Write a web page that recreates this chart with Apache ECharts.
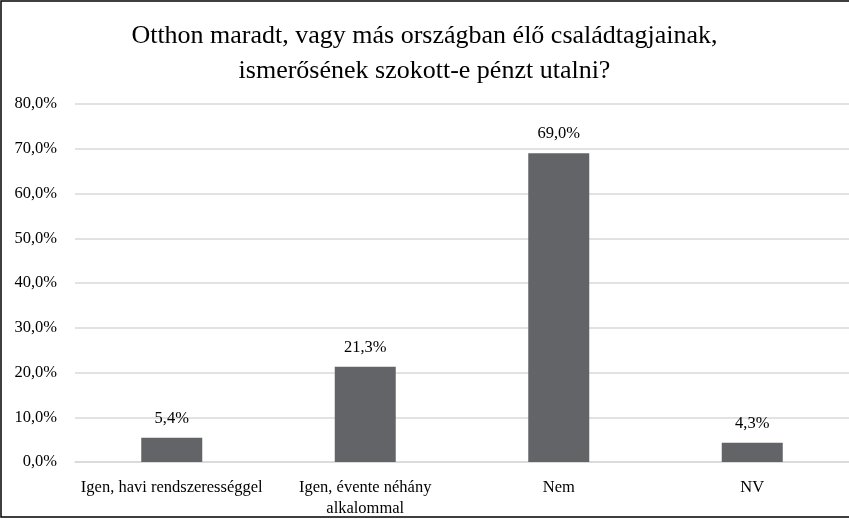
<!DOCTYPE html>
<html><head><meta charset="utf-8">
<script src="https://cdn.jsdelivr.net/npm/echarts@6/dist/echarts.min.js"></script>
<style>html,body{margin:0;padding:0;background:#fff}#c{width:849px;height:519px}</style>
</head><body><div id="c"></div>
<script>
const titleText = "Otthon maradt, vagy más országban élő családtagjainak,\nismerősének szokott-e pénzt utalni?";
const categories = ["Igen, havi rendszerességgel", "Igen, évente néhány\nalkalommal", "Nem", "NV"];
const values = [5.4, 21.3, 69.0, 4.3];
const yTicks = {min: 0, max: 80, interval: 10};
const fmt = v => v.toFixed(1).replace('.', ',') + '%';
const font = '"Liberation Serif", "DejaVu Serif", serif';
const chart = echarts.init(document.getElementById('c'), null, {renderer: 'canvas'});
chart.setOption({
  animation: false,
  backgroundColor: '#fff',
  title: {text: titleText, left: 'center', top: 14,
    textStyle: {fontFamily: font, fontSize: 26, fontWeight: 'normal', color: '#000', lineHeight: 35}},
  graphic: [{type: 'rect', shape: {x: 1, y: 1, width: 870, height: 516}, style: {fill: 'none', stroke: '#000', lineWidth: 1.5}, silent: true}],
  grid: {left: 75, top: 104, width: 781, height: 358, containLabel: false},
  xAxis: {type: 'category', data: categories,
    axisLine: {show: true, lineStyle: {color: '#d9d9d9', width: 1.5}}, axisTick: {show: false},
    axisLabel: {fontFamily: font, fontSize: 16.5, color: '#000', margin: 15, lineHeight: 21, interval: 0}},
  yAxis: {type: 'value', min: yTicks.min, max: yTicks.max, interval: yTicks.interval,
    axisLine: {show: false}, axisTick: {show: false},
    splitLine: {lineStyle: {color: '#d9d9d9', width: 1.5}},
    axisLabel: {fontFamily: font, fontSize: 16.5, color: '#000', margin: 18, formatter: fmt}},
  series: [{type: 'bar', data: values, barWidth: 61, itemStyle: {color: '#636467'},
    label: {show: true, position: 'top', distance: 11, fontFamily: font, fontSize: 16.5, color: '#000', formatter: p => fmt(p.value)}}]
});
</script></body></html>
